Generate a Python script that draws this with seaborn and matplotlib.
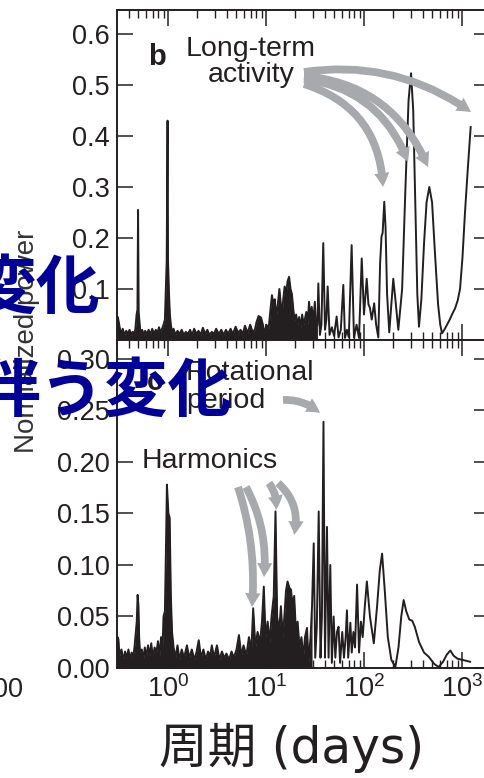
import pandas as pd
import matplotlib
matplotlib.use('Agg')
from matplotlib import pyplot as plt
from matplotlib import ticker
import seaborn as sns

# panel b (top): period in days / normalized power
top_period = [0.30, 0.308, 0.318, 0.33, 0.345, 0.36, 0.375, 0.39, 0.405, 0.42, 0.435, 0.45, 0.465,
              0.478, 0.488, 0.495, 0.502, 0.512, 0.525, 0.545, 0.565, 0.585, 0.61, 0.635, 0.66, 0.69,
              0.72, 0.75, 0.78, 0.81, 0.84, 0.87, 0.90, 0.93, 0.95, 0.97, 0.99, 1.0, 1.02, 1.045,
              1.07, 1.10, 1.14, 1.19, 1.25, 1.31, 1.38, 1.45, 1.52, 1.60, 1.68, 1.76, 1.85, 1.95,
              2.05, 2.15, 2.27, 2.4, 2.52, 2.65, 2.8, 2.95, 3.1, 3.3, 3.5, 3.7, 3.9, 4.1, 4.35, 4.6,
              4.9, 5.2, 5.5, 5.8, 6.1, 6.5, 6.9, 7.3, 7.7, 8.0, 8.4, 8.9, 9.3, 9.7, 10.1, 10.6, 11.0,
              11.5, 11.9, 12.3, 12.7, 13.2, 13.7, 14.1, 14.5, 15.0, 15.5, 16.0, 16.6, 17.2, 17.8,
              18.4, 19.0, 19.6, 20.3, 21.0, 21.8, 22.6, 23.4, 24.2, 25.0, 25.8, 26.6, 27.5, 28.4,
              29.3, 30.4, 31.5, 32.5, 33.5, 34.2, 35.5, 36.8, 38.4, 40.0, 41.3, 42.6, 44.5, 47,
              49.5, 52.6, 55, 58, 61.5, 64, 67, 70, 74.8, 79, 84, 89, 94.8, 100, 106.6, 111, 115,
              120, 127, 133, 140, 146, 151, 155, 161, 166, 172, 181, 190, 199, 209, 224, 245, 265,
              285, 302, 318, 335, 350, 364, 385, 410, 435, 464, 495, 530, 570, 600, 625, 660, 703,
              750, 791, 850, 905, 955, 1010, 1073, 1150, 1227]
top_power = [0.02, 0.045, 0.03, 0.012, 0.022, 0.01, 0.018, 0.012, 0.02, 0.01, 0.016, 0.012, 0.022,
             0.05, 0.06, 0.255, 0.055, 0.035, 0.012, 0.02, 0.01, 0.018, 0.012, 0.02, 0.01, 0.022,
             0.012, 0.02, 0.014, 0.025, 0.015, 0.022, 0.03, 0.04, 0.10, 0.155, 0.43, 0.16, 0.10, 0.05,
             0.03, 0.015, 0.022, 0.01, 0.018, 0.012, 0.02, 0.01, 0.016, 0.012, 0.02, 0.01, 0.022, 0.012,
             0.018, 0.01, 0.024, 0.012, 0.02, 0.01, 0.016, 0.012, 0.022, 0.012, 0.02, 0.01, 0.02, 0.012,
             0.022, 0.012, 0.026, 0.014, 0.02, 0.012, 0.028, 0.014, 0.03, 0.016, 0.02, 0.035, 0.047,
             0.044, 0.03, 0.012, 0.03, 0.02, 0.05, 0.088, 0.07, 0.08, 0.045, 0.07, 0.10, 0.075, 0.045,
             0.08, 0.105, 0.09, 0.115, 0.124, 0.10, 0.09, 0.06, 0.038, 0.05, 0.03, 0.045, 0.025, 0.05,
             0.03, 0.042, 0.055, 0.03, 0.075, 0.04, 0.065, 0.035, 0.075, 0.02, 0.03, 0.111, 0.01, 0.03,
             0.19, 0.02, 0.04, 0.105, 0.01, 0.025, 0.008, 0.046, 0.005, 0.02, 0.108, 0.004, 0.02, 0.005,
             0.186, 0.005, 0.03, 0.004, 0.16, 0.05, 0.12, 0.07, 0.063, 0.04, 0.072, 0.03, 0.005, 0.15,
             0.203, 0.21, 0.271, 0.22, 0.09, 0.015, 0.07, 0.12, 0.08, 0.02, 0.10, 0.30, 0.47, 0.523,
             0.45, 0.25, 0.09, 0.026, 0.08, 0.19, 0.27, 0.30, 0.27, 0.17, 0.07, 0.03, 0.013, 0.02,
             0.03, 0.04, 0.05, 0.062, 0.078, 0.10, 0.16, 0.25, 0.34, 0.418]

# panel c (bottom)
bot_period = [0.30, 0.305, 0.312, 0.32, 0.335, 0.35, 0.365, 0.38, 0.395, 0.41, 0.425, 0.44, 0.455,
              0.47, 0.48, 0.49, 0.50, 0.508, 0.52, 0.54, 0.56, 0.58, 0.60, 0.625, 0.65, 0.675, 0.70,
              0.73, 0.76, 0.79, 0.82, 0.85, 0.88, 0.90, 0.93, 0.955, 0.975, 0.99, 1.01, 1.04, 1.07,
              1.10, 1.14, 1.19, 1.25, 1.31, 1.38, 1.46, 1.56, 1.65, 1.75, 1.86, 1.96, 2.06, 2.17, 2.3,
              2.43, 2.56, 2.7, 2.8, 2.95, 3.16, 3.35, 3.55, 3.75, 3.95, 4.2, 4.45, 4.7, 5.0, 5.3, 5.6,
              5.9, 6.3, 6.7, 7.1, 7.4, 7.8, 8.2, 8.7, 9.1, 9.5, 9.9, 10.4, 10.9, 11.4, 12.0, 12.5, 13.0,
              13.6, 14.2, 14.8, 15.4, 16.0, 16.6, 17.3, 18.0, 18.7, 19.4, 20.2, 21.0, 22.0, 23.0, 24.0,
              25.0, 26.2, 27.2, 28.5, 29.5, 30.7, 31.8, 33.0, 34.5, 36.0, 37.2, 38.6, 40.0, 41.9, 43.5,
              45.3, 47, 49, 51, 53, 55, 57, 60, 62.5, 65, 67, 69, 72.6, 75, 78, 81, 85, 89, 93, 97,
              102, 107, 115, 126, 136, 145, 153, 163, 175, 190, 209, 225, 240, 254, 270, 290, 310, 330,
              365, 410, 457, 520, 578, 640, 700, 760, 820, 900, 1000, 1216]
bot_power = [0.012, 0.03, 0.028, 0.012, 0.018, 0.008, 0.016, 0.01, 0.018, 0.008, 0.015, 0.01, 0.02,
             0.035, 0.045, 0.071, 0.06, 0.03, 0.012, 0.018, 0.008, 0.02, 0.01, 0.022, 0.012, 0.024,
             0.01, 0.02, 0.014, 0.026, 0.012, 0.03, 0.02, 0.05, 0.055, 0.12, 0.178, 0.165, 0.15, 0.146,
             0.07, 0.035, 0.02, 0.01, 0.022, 0.008, 0.018, 0.01, 0.022, 0.01, 0.018, 0.008, 0.016,
             0.027, 0.01, 0.018, 0.008, 0.016, 0.012, 0.022, 0.01, 0.022, 0.008, 0.016, 0.01, 0.014,
             0.008, 0.016, 0.01, 0.018, 0.032, 0.012, 0.022, 0.012, 0.03, 0.018, 0.058, 0.02, 0.035,
             0.025, 0.045, 0.079, 0.03, 0.045, 0.025, 0.05, 0.07, 0.152, 0.05, 0.035, 0.06, 0.03, 0.05,
             0.075, 0.084, 0.078, 0.076, 0.06, 0.07, 0.035, 0.045, 0.02, 0.03, 0.01, 0.03, 0.039,
             0.005, 0.03, 0.06, 0.121, 0.01, 0.04, 0.152, 0.01, 0.05, 0.239, 0.01, 0.137, 0.01, 0.10,
             0.005, 0.05, 0.01, 0.035, 0.04, 0.005, 0.035, 0.01, 0.03, 0.056, 0.01, 0.044, 0.015,
             0.035, 0.02, 0.081, 0.015, 0.045, 0.03, 0.06, 0.084, 0.05, 0.024, 0.06, 0.095, 0.111,
             0.075, 0.03, 0.008, 0.001, 0.02, 0.05, 0.066, 0.055, 0.047, 0.046, 0.04, 0.025, 0.015,
             0.011, 0.004, 0.001, 0.006, 0.013, 0.017, 0.012, 0.009, 0.008, 0.006]

top_yticks = [0.1, 0.2, 0.3, 0.4, 0.5, 0.6]
bot_yticks = [0.00, 0.05, 0.10, 0.15, 0.20, 0.25, 0.30]

ink = '#231f20'
arrow_grey = '#a7a9ac'
jp_blue = '#000099'

sns.set_theme(style='ticks')
plt.rcParams['font.family'] = ['Liberation Sans', 'DejaVu Sans']
plt.rcParams['mathtext.fontset'] = 'custom'
plt.rcParams['mathtext.rm'] = 'Liberation Sans'

W, H = 485, 778
fig = plt.figure(figsize=(W / 100, H / 100), dpi=100)

def px(x, y):
    # image pixel (from top-left) -> figure fraction
    return (x / W, 1 - y / H)

ax_top = fig.add_axes([117 / W, 1 - 340 / H, 373 / W, 330 / H])
ax_bot = fig.add_axes([117 / W, 1 - 668 / H, 373 / W, 328 / H])

df_top = pd.DataFrame({'period': top_period, 'power': top_power})
df_bot = pd.DataFrame({'period': bot_period, 'power': bot_power})

for ax, df, dense_max in [(ax_top, df_top, 33.5), (ax_bot, df_bot, 29.5)]:
    dense = df[df['period'] <= dense_max]
    ax.fill_between(dense['period'], 0, dense['power'], color=ink, lw=0)
    sns.lineplot(data=df, x='period', y='power', ax=ax, sort=False, estimator=None,
                 color=ink, lw=1.4)
    ax.set_xscale('log')
    ax.set_xlim(0.3018, 1931)
    ax.set_xlabel('')
    ax.set_ylabel('')
    ax.xaxis.set_major_locator(ticker.LogLocator(base=10))
    ax.xaxis.set_minor_locator(ticker.LogLocator(base=10, subs=range(2, 10)))
    ax.tick_params(which='major', direction='in', top=True, right=True, length=11.5,
                   width=1.1, color=ink, labelsize=19.5, labelcolor=ink, pad=5)
    ax.tick_params(which='minor', direction='in', top=True, right=False, length=6,
                   width=1.0, color=ink)
    ax.tick_params(axis='y', which='minor', left=False, right=False)
    for s in ax.spines.values():
        s.set_linewidth(1.4)
        s.set_color(ink)
    ax.set_facecolor('white')

ax_top.set_ylim(0, 0.647)
ax_top.set_yticks(top_yticks)
ax_top.yaxis.set_major_formatter(ticker.FormatStrFormatter('%.1f'))
ax_top.tick_params(axis='x', labelbottom=False)

ax_bot.set_ylim(0, 0.3184)
ax_bot.set_yticks(bot_yticks)
ax_bot.yaxis.set_major_formatter(ticker.FormatStrFormatter('%.2f'))
ax_bot.xaxis.set_major_formatter(ticker.LogFormatterMathtext())

# panel letters and annotations
ax_top.text(*px(157, 57), 'b', transform=fig.transFigure, fontsize=21, fontweight='bold',
            color=ink, ha='center', va='center')
ax_bot.text(*px(155, 382), 'c', transform=fig.transFigure, fontsize=21, fontweight='bold',
            color=ink, ha='center', va='center')
ax_top.text(*px(251, 62), 'Long-term\nactivity', transform=fig.transFigure, fontsize=20.5,
            color=ink, ha='center', va='center', linespacing=1.05)
ax_bot.text(*px(186, 387), 'Rotational\nperiod', transform=fig.transFigure, fontsize=20.5,
            color=ink, ha='left', va='center', linespacing=1.05)
ax_bot.text(*px(142, 461), 'Harmonics', transform=fig.transFigure, fontsize=20.5,
            color=ink, ha='left', va='center')

def grey_arrow(ax, tail, head, rad):
    ax.annotate('', xy=px(*head), xytext=px(*tail), xycoords='figure fraction',
                textcoords='figure fraction',
                arrowprops=dict(arrowstyle='simple,head_length=0.5,head_width=0.55,tail_width=0.28',
                                connectionstyle='arc3,rad=%s' % rad, color=arrow_grey,
                                mutation_scale=20, shrinkA=0, shrinkB=0, lw=0))

for tail, head, rad in [((304, 84), (383, 187), -0.35), ((304, 79), (408, 162), -0.3),
                        ((304, 76), (428, 167), -0.3), ((304, 72), (471, 112), -0.2)]:
    grey_arrow(ax_top, tail, head, rad)
for tail, head, rad in [((283, 400), (320, 413), -0.2), ((238, 487), (252, 607), -0.1),
                        ((246, 487), (264, 577), -0.15), ((269, 483), (276, 510), -0.2),
                        ((278, 483), (294, 535), -0.3)]:
    grey_arrow(ax_bot, tail, head, rad)

# axis titles
fig.text(*px(27, 341), 'Normalized power', rotation=90, fontsize=20, color='#333333',
         ha='center', va='center', zorder=2)
fig.text(*px(292, 748), '周期 (days)', fontsize=35, color=ink, ha='center', va='center',
         family=['DejaVu Sans', 'Noto Sans CJK JP'], zorder=2)
fig.text(*px(23, 690), '00', fontsize=19.5, color=ink, ha='right', va='center', zorder=2)

# overlaid slide text
fig.text(*px(100, 289), '変化', fontsize=46, fontweight='bold', color=jp_blue, ha='right',
         va='center', family=['Noto Sans CJK JP'], zorder=10)
fig.text(*px(232, 392), '伴う変化', fontsize=46, fontweight='bold', color=jp_blue, ha='right',
         va='center', family=['Noto Sans CJK JP'], zorder=10)

plt.savefig('out.png', dpi=100)
